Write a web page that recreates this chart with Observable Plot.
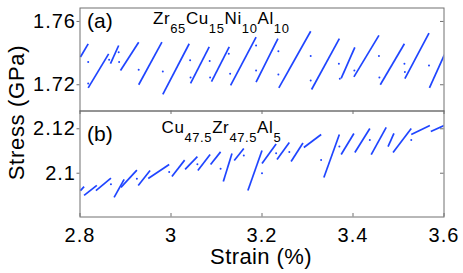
<!DOCTYPE html>
<html><head><meta charset="utf-8">
<script src="https://cdn.jsdelivr.net/npm/d3@7"></script>
<script src="https://cdn.jsdelivr.net/npm/@observablehq/plot@0.6"></script>
<style>
body{margin:0;background:#fff}
#chart{position:relative;width:463px;height:273px;background:#fff;overflow:hidden}
#chart svg{position:absolute;left:0}
</style></head><body><div id="chart"></div>
<script>
// ---- data ----
const xTicks = [2.8, 3.0, 3.2, 3.4, 3.6];
const topYTicks = [1.72, 1.76];
const bottomYTicks = [2.1, 2.12];
const topDomain = [1.7034, 1.7685];
const bottomDomain = [2.0803, 2.128];
const xDomain = [2.8, 3.6];

// rising loading segments: [strain start, stress start, strain end, stress end]
const topTeeth = [
  [2.801, 1.7375, 2.818, 1.7458],
  [2.818, 1.7180, 2.863, 1.7395],
  [2.867, 1.7333, 2.885, 1.7448],
  [2.889, 1.7290, 2.929, 1.7469],
  [2.929, 1.7200, 2.980, 1.7469],
  [2.982, 1.7139, 3.040, 1.7459],
  [3.043, 1.7208, 3.084, 1.7439],
  [3.089, 1.7220, 3.128, 1.7440],
  [3.131, 1.7196, 3.187, 1.7501],
  [3.187, 1.7216, 3.235, 1.7491],
  [3.237, 1.7180, 3.307, 1.7538],
  [3.309, 1.7170, 3.370, 1.7491],
  [3.374, 1.7240, 3.404, 1.7436],
  [3.402, 1.7250, 3.457, 1.7512],
  [3.460, 1.7200, 3.513, 1.7459],
  [3.514, 1.7238, 3.567, 1.7526],
  [3.568, 1.7180, 3.601, 1.7390]
];
// isolated points recorded during stress drops: [strain, stress]
const topDrops = [
  [2.818, 1.7343], [2.818, 1.7208], [2.864, 1.7358], [2.885, 1.7406], [2.886, 1.7343],
  [2.929, 1.7294], [2.982, 1.7284], [3.042, 1.7354], [3.043, 1.7246], [3.085, 1.7350],
  [3.086, 1.7246], [3.127, 1.7396], [3.130, 1.7269], [3.187, 1.7448], [3.187, 1.7290],
  [3.236, 1.7412], [3.236, 1.7265], [3.307, 1.7382], [3.307, 1.7227], [3.369, 1.7333],
  [3.371, 1.7238], [3.403, 1.7290], [3.457, 1.7382], [3.458, 1.7246], [3.513, 1.7333],
  [3.514, 1.7280], [3.567, 1.7322]
];
const bottomTeeth = [
  [2.801, 2.0922, 2.809, 2.0940],
  [2.809, 2.0900, 2.837, 2.0945],
  [2.835, 2.0922, 2.868, 2.0978],
  [2.875, 2.0891, 2.897, 2.0972],
  [2.890, 2.0936, 2.925, 2.1014],
  [2.928, 2.0945, 2.954, 2.1012],
  [2.950, 2.0976, 2.996, 2.1039],
  [3.002, 2.0985, 3.030, 2.1059],
  [3.031, 2.1017, 3.058, 2.1075],
  [3.059, 2.1012, 3.086, 2.1084],
  [3.087, 2.1039, 3.109, 2.1096],
  [3.115, 2.0963, 3.134, 2.1089],
  [3.139, 2.1057, 3.160, 2.1111],
  [3.169, 2.0922, 3.200, 2.1102],
  [3.200, 2.1044, 3.231, 2.1132],
  [3.233, 2.1062, 3.260, 2.1138],
  [3.264, 2.1053, 3.290, 2.1136],
  [3.292, 2.1116, 3.330, 2.1174],
  [3.336, 2.0981, 3.370, 2.1174],
  [3.374, 2.1084, 3.402, 2.1179],
  [3.404, 2.1093, 3.437, 2.1201],
  [3.440, 2.1084, 3.473, 2.1206],
  [3.477, 2.1120, 3.490, 2.1179],
  [3.488, 2.1093, 3.528, 2.1201],
  [3.528, 2.1174, 3.569, 2.1215],
  [3.571, 2.1188, 3.600, 2.1215]
];
const bottomDrops = [
  [2.868, 2.0950], [2.925, 2.0975], [2.996, 2.1005], [3.058, 2.1040], [3.109, 2.1020],
  [3.160, 2.1080], [3.200, 2.1000], [3.231, 2.1090], [3.260, 2.1095], [3.330, 2.1060],
  [3.370, 2.1120], [3.437, 2.1150], [3.528, 2.1150]
];

// ---- style ----
const BLUE = "#1f45ff";
const GRAY = "#707070";
const FONT = "'Liberation Sans', Arial, Helvetica, sans-serif";
const W = 463, ML = 79.5, MR = 19.5;
const PW = W - ML - MR;
const fmt = d3.format("~g");

function panel(domain, yTicks, teeth, drops, opts) {
  const PH = opts.height - opts.marginTop - opts.marginBottom;
  const marks = [
    Plot.link(teeth, {x1: d => d[0], y1: d => d[1], x2: d => d[2], y2: d => d[3],
      stroke: BLUE, strokeWidth: 1.7, strokeLinecap: "butt", clip: true}),
    Plot.dot(drops, {x: d => d[0], y: d => d[1], r: 1, fill: BLUE, stroke: null, clip: true}),
    Plot.frame({stroke: GRAY, strokeWidth: 1}),
    Plot.axisY(yTicks, {anchor: "left", tickSize: 3, tickPadding: 1, tickFormat: fmt,
      stroke: GRAY, fill: "black", fontSize: 20, label: null}),
    Plot.ruleY(yTicks, {y: d => d, insetLeft: PW - 3.5, stroke: GRAY})
  ];
  if (opts.bottomAxis) {
    marks.push(
      Plot.ruleX(xTicks, {x: d => d, insetTop: PH - 3.5, stroke: GRAY}),
      Plot.ruleX(xTicks, {x: d => d, insetBottom: PH - 3.5, stroke: GRAY}),
      Plot.axisX(xTicks, {anchor: "bottom", tickSize: 0, tickPadding: 11, tickFormat: fmt,
        fill: "black", fontSize: 20, label: null})
    );
  }
  return Plot.plot({
    width: W, height: opts.height,
    marginLeft: ML, marginRight: MR, marginTop: opts.marginTop, marginBottom: opts.marginBottom,
    x: {domain: xDomain, axis: opts.bottomAxis ? undefined : null},
    y: {domain},
    style: {fontFamily: FONT, fontSize: "20px", letterSpacing: "1px", background: "transparent", overflow: "visible", color: "black"},
    marks
  });
}

const chart = document.getElementById("chart");
const top1 = panel(topDomain, topYTicks, topTeeth, topDrops, {height: 111, marginTop: 7.5, marginBottom: 0.5, bottomAxis: false});
top1.style.top = "0px";
chart.appendChild(top1);
const bot = panel(bottomDomain, bottomYTicks, bottomTeeth, bottomDrops, {height: 163, marginTop: 0.5, marginBottom: 56.5, bottomAxis: true});
bot.style.top = "110px";
chart.appendChild(bot);

// ---- text overlay ----
const ov = d3.select(chart).append("svg")
  .attr("width", W).attr("height", 273)
  .style("top", "0px").style("pointer-events", "none")
  .attr("font-family", FONT).attr("fill", "black");

ov.append("text").attr("transform", "translate(24,112.5) rotate(-90)")
  .attr("text-anchor", "middle").attr("font-size", 22).attr("letter-spacing", 0.7)
  .text("Stress (GPa)");
ov.append("text").attr("x", 261).attr("y", 264).attr("text-anchor", "middle")
  .attr("font-size", 22).attr("letter-spacing", 0.4).text("Strain (%)");
ov.append("text").attr("x", 87).attr("y", 27.5).attr("font-size", 21).text("(a)");
ov.append("text").attr("x", 87).attr("y", 140.5).attr("font-size", 21).text("(b)");

function formula(x, y, parts) {
  const t = ov.append("text").attr("x", x).attr("y", y).attr("font-size", 17).attr("letter-spacing", 0.6);
  let down = false;
  parts.forEach(([s, sub]) => {
    const ts = t.append("tspan").text(s);
    if (sub && !down) { ts.attr("dy", 9).attr("font-size", 13); down = true; }
    else if (!sub && down) { ts.attr("dy", -9).attr("font-size", 17); down = false; }
    else if (sub) ts.attr("font-size", 13);
  });
}
formula(153, 24, [["Zr"], ["65", 1], ["Cu"], ["15", 1], ["Ni"], ["10", 1], ["Al"], ["10", 1]]);
formula(161.5, 133.3, [["Cu"], ["47.5", 1], ["Zr"], ["47.5", 1], ["Al"], ["5", 1]]);
</script>
</body></html>
